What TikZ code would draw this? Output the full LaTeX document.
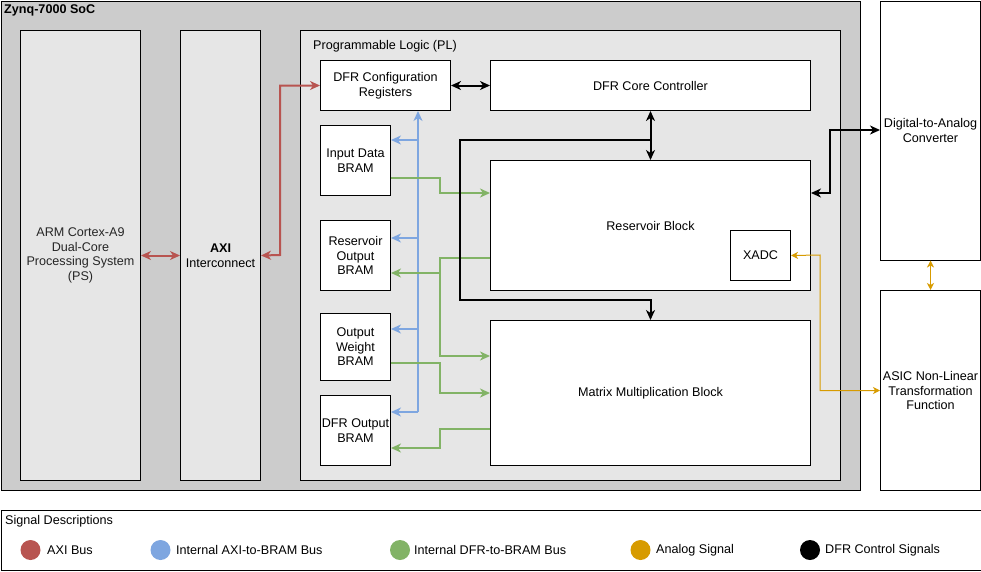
\documentclass[tikz,border=0pt]{standalone}
\usepackage{fontspec}
\setmainfont{Liberation Sans}
\usetikzlibrary{arrows.meta}
\definecolor{axired}{HTML}{B85450}
\definecolor{bramblue}{HTML}{7EA6E0}
\definecolor{dfrgreen}{HTML}{82B366}
\definecolor{anaorange}{HTML}{D79B00}
\definecolor{socgray}{HTML}{CCCCCC}
\definecolor{plgray}{HTML}{E6E6E6}
\definecolor{txtgray}{HTML}{262626}
\tikzset{
  box/.style={draw, line width=1pt, anchor=north west, align=center, inner sep=0pt, fill=white},
  lbl/.style={anchor=west, inner sep=0pt},
  wire/.style={line width=2pt, >={Stealth[length=10pt,width=9pt,inset=3pt]}},
  axibus/.style={wire, draw=axired},
  bluebus/.style={wire, draw=bramblue},
  greenbus/.style={wire, draw=dfrgreen},
  ctrlbus/.style={wire, draw=black},
  anabus/.style={line width=1pt, draw=anaorange, >={Stealth[length=7pt,width=7pt,inset=2pt]}},
  dot/.style={circle, minimum size=20pt, inner sep=0pt, draw=none},
}
\begin{document}
\begin{tikzpicture}[x=1pt,y=-1pt, font=\fontsize{12.6}{14.5}\selectfont]
\useasboundingbox (0,0) rectangle (981,571);
% containers
\node[box, fill=socgray, minimum width=859pt, minimum height=489pt] (soc) at (0.5,0.5) {};
\node[lbl, font=\fontsize{12.6}{14.5}\selectfont\bfseries] (soclbl) at (4,10) {Zynq-7000 SoC};
\node[box, fill=plgray, minimum width=120pt, minimum height=450pt, text=txtgray] (arm) at (20,30) {ARM Cortex-A9\\Dual-Core\\Processing System\\(PS)};
\node[box, fill=plgray, minimum width=80pt, minimum height=450pt] (axi) at (180,30) {\textbf{AXI}\\Interconnect};
\node[box, fill=plgray, minimum width=540pt, minimum height=450pt] (pl) at (300,30) {};
\node[lbl] (pllbl) at (313,46) {Programmable Logic (PL)};
% PL blocks
\node[box, minimum width=130pt, minimum height=50pt] (cfg) at (320,60) {DFR Configuration\\Registers};
\node[box, minimum width=320pt, minimum height=50pt] (ctrl) at (490,60) {DFR Core Controller};
\node[box, minimum width=70pt, minimum height=70pt] (ind) at (320,125) {Input Data\\BRAM};
\node[box, minimum width=70pt, minimum height=70pt] (rob) at (320,220) {Reservoir\\Output\\BRAM};
\node[box, minimum width=70pt, minimum height=67pt] (owb) at (320,313) {Output\\Weight\\BRAM};
\node[box, minimum width=70pt, minimum height=70pt] (dob) at (320,395) {DFR Output\\BRAM};
\node[box, minimum width=320pt, minimum height=130pt] (res) at (490,160) {Reservoir Block};
\node[box, minimum width=60pt, minimum height=50pt] (xadc) at (730,230) {XADC};
\node[box, minimum width=320pt, minimum height=145pt] (mm) at (490,320) {Matrix Multiplication Block};
% external
\node[box, minimum width=100pt, minimum height=259pt] (dac) at (880,0.5) {Digital-to-Analog\\Converter};
\node[box, minimum width=100pt, minimum height=200pt] (asic) at (880,290) {ASIC Non-Linear\\Transformation\\Function};
% AXI bus
\draw[axibus, <->] (arm.east) -- (axi.west);
\draw[axibus, <->] (axi.east) -- (280,255) |- (cfg.west);
% blue bus
\coordinate (bbot) at (418,412);
\draw[bluebus, ->] (bbot) -- (bbot |- cfg.south);
\draw[bluebus, ->] (418,140) -- (ind.east |- 0,140);
\draw[bluebus, ->] (418,238) -- (rob.east |- 0,238);
\draw[bluebus, ->] (418,329) -- (owb.east |- 0,329);
\draw[bluebus, ->] (bbot) -- (dob.east |- bbot);
% green bus
\draw[greenbus, ->] (ind.east |- 0,178) -- (440,178) |- (res.west |- 0,193);
\draw[greenbus, ->] (res.west |- 0,258) -- (440,258) |- (mm.west |- 0,356);
\draw[greenbus, ->] (440,273) -- (rob.east |- 0,273);
\draw[greenbus, ->] (owb.east |- 0,363) -- (440,363) |- (mm.west |- 0,393);
\draw[greenbus, ->] (mm.west |- 0,429) -- (440,429) |- (dob.east |- 0,448);
% control
\draw[ctrlbus, <->] (cfg.east) -- (ctrl.west);
\draw[ctrlbus, <->] (ctrl.south) -- (res.north);
\draw[ctrlbus, ->] (650,140) -- (460,140) -- (460,300) -| (mm.north);
\draw[ctrlbus, <->] (dac.west |- 0,130) -- (830,130) |- (res.east |- 0,193);
% analog
\draw[anabus, <->] (xadc.east) -- (820,255) |- (asic.west);
\draw[anabus, <->] (dac.south) -- (asic.north);
% legend
\node[box, minimum width=980pt, minimum height=60pt] (leg) at (0.5,510) {};
\node[lbl] (legt) at (5,521) {Signal Descriptions};
\node[dot, fill=axired] (d1) at (30.5,550) {};
\node[lbl] (l1) at (47,550) {AXI Bus};
\node[dot, fill=bramblue] (d2) at (160.5,550) {};
\node[lbl] (l2) at (176,550) {Internal AXI-to-BRAM Bus};
\node[dot, fill=dfrgreen] (d3) at (400,550) {};
\node[lbl] (l3) at (414,550) {Internal DFR-to-BRAM Bus};
\node[dot, fill=anaorange] (d4) at (640.5,550) {};
\node[lbl] (l4) at (656,550) {Analog Signal};
\node[dot, fill=black] (d5) at (810,550) {};
\node[lbl] (l5) at (825,550) {DFR Control Signals};
\end{tikzpicture}
\end{document}
